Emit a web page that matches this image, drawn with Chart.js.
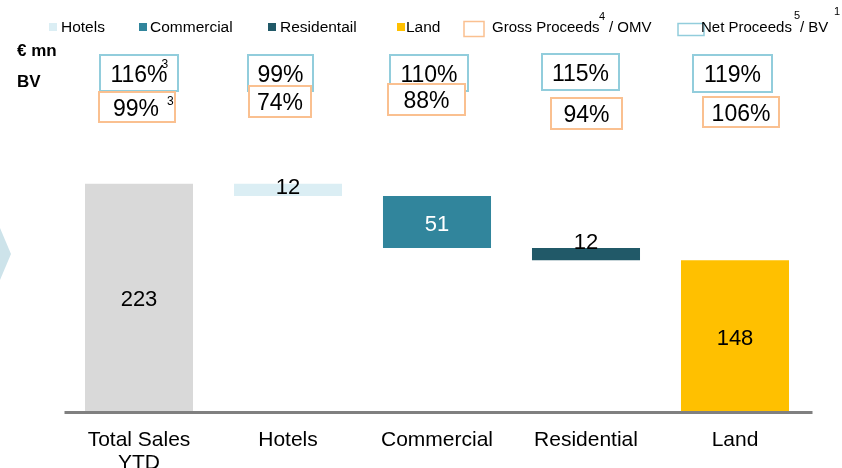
<!DOCTYPE html>
<html>
<head>
<meta charset="utf-8">
<script src="https://cdn.jsdelivr.net/npm/chart.js@4.4.1/dist/chart.umd.min.js"></script>
<style>
  html, body { margin: 0; padding: 0; background: #fff; }
  #wrap { width: 842px; height: 468px; position: relative; }
</style>
</head>
<body>
<div id="wrap"><canvas id="chart" width="842" height="468"></canvas></div>
<script>
// --- data ---
const categories = [['Total Sales', 'YTD'], 'Hotels', 'Commercial', 'Residential', 'Land'];
const values = [223, 12, 51, 12, 148];
const netProceedsBV = ['116%', '99%', '110%', '115%', '119%'];
const grossProceedsOMV = ['99%', '74%', '88%', '94%', '106%'];
const netSup = ['3', '', '', '', ''];
const grossSup = ['3', '', '', '', ''];
const legendNames = ['Hotels', 'Commercial', 'Residentail', 'Land'];

// colours
const barColors = ['#d9d9d9', '#dbeef4', '#31859c', '#215968', '#ffc000'];
const labelColors = ['#000', '#000', '#fff', '#000', '#000'];
const netColor = '#92cddc';
const grossColor = '#fac090';
const FONT = '"Liberation Sans", Arial, sans-serif';

// waterfall ranges: first and last bars start at 0, the rest step down from the total
const ranges = [];
let level = values[0];
values.forEach((v, i) => {
    if (i === 0 || i === values.length - 1) ranges.push([0, v]);
    else { ranges.push([level - v, level]); level -= v; }
});

// box placement relative to each bar centre (dx, top, width, height)
const netBoxes = [[0, 55, 78, 36], [-7.5, 55, 65, 36], [-8, 55, 78, 36], [-5.5, 54, 77, 36], [-2.5, 55, 79, 37]];
const grossBoxes = [[-2, 92, 76, 30], [-8, 86, 62, 31], [-10.5, 84, 77, 31], [0.5, 98, 71, 31], [6, 97, 76, 30]];
// value label vertical offset: 'mid' = bar middle, number = px from bar top
const labelPos = ['mid', 1, 'mid', -8, 'mid'];

function text(ctx, str, x, y, font, color, align) {
    ctx.font = font;
    ctx.fillStyle = color;
    ctx.textAlign = align || 'left';
    ctx.textBaseline = 'alphabetic';
    ctx.fillText(str, x, y);
}

const overlay = {
    id: 'overlay',
    afterDraw(chart) {
        const ctx = chart.ctx;
        const xs = chart.scales.x, ys = chart.scales.y;
        const area = chart.chartArea;
        ctx.save();

        // chevron stub on the left edge
        ctx.fillStyle = '#cde3ea';
        ctx.beginPath();
        ctx.moveTo(0, 228); ctx.lineTo(11, 254); ctx.lineTo(0, 280); ctx.closePath();
        ctx.fill();

        // baseline
        ctx.strokeStyle = '#808080';
        ctx.lineWidth = 3;
        ctx.beginPath();
        ctx.moveTo(area.left, area.bottom + 1.5);
        ctx.lineTo(area.right + 3, area.bottom + 1.5);
        ctx.stroke();

        // legend
        const sq = [49, 139, 268, 397];
        const tx = [61, 150, 280, 406];
        legendNames.forEach((n, i) => {
            ctx.fillStyle = barColors[i + 1];
            ctx.fillRect(sq[i], 23, 8, 8);
            text(ctx, n, tx[i], 32, '15.5px ' + FONT, '#000');
        });
        ctx.lineWidth = 1.5;
        ctx.strokeStyle = grossColor;
        ctx.strokeRect(464, 21.5, 20, 15);
        text(ctx, 'Gross Proceeds', 492, 32, '15px ' + FONT, '#000');
        text(ctx, '4', 599, 20, '11px ' + FONT, '#000');
        text(ctx, '/ OMV', 609, 32, '15px ' + FONT, '#000');
        ctx.strokeStyle = netColor;
        ctx.strokeRect(678, 23.5, 26, 12);
        text(ctx, 'Net Proceeds', 701, 32, '15px ' + FONT, '#000');
        text(ctx, '5', 794, 19, '11px ' + FONT, '#000');
        text(ctx, '/ BV', 800, 32, '15px ' + FONT, '#000');
        text(ctx, '1', 834, 15, '11px ' + FONT, '#000');

        // header labels
        text(ctx, '€ mn', 17, 56, 'bold 17px ' + FONT, '#000');
        text(ctx, 'BV', 17, 87, 'bold 17px ' + FONT, '#000');

        // percentage boxes
        categories.forEach((c, i) => {
            const cx = xs.getPixelForValue(i);
            [[netBoxes[i], netColor, netProceedsBV[i], netSup[i]],
             [grossBoxes[i], grossColor, grossProceedsOMV[i], grossSup[i]]].forEach(([b, col, str, sup], k) => {
                const bx = cx + b[0] - b[2] / 2;
                ctx.fillStyle = '#fff';
                ctx.fillRect(bx, b[1], b[2], b[3]);
                ctx.strokeStyle = col;
                ctx.lineWidth = 2;
                ctx.strokeRect(bx, b[1], b[2], b[3]);
                const tcx = cx + b[0] + (k === 1 && sup ? -1 : 0);
                text(ctx, str, tcx, b[1] + b[3] / 2 + 8.5, '23px ' + FONT, '#000', 'center');
                if (sup) {
                    ctx.font = '23px ' + FONT;
                    const w = ctx.measureText(str).width;
                    if (k === 0) text(ctx, sup, tcx + w / 2 - 6, b[1] + 13, '12px ' + FONT, '#000');
                    else text(ctx, sup, tcx + w / 2 + 8, b[1] + 13, '12px ' + FONT, '#000');
                }
            });
        });

        // value labels
        values.forEach((v, i) => {
            const cx = xs.getPixelForValue(i);
            const top = ys.getPixelForValue(ranges[i][1]);
            const bot = ys.getPixelForValue(ranges[i][0]);
            const cy = labelPos[i] === 'mid' ? (top + bot) / 2 : top + labelPos[i];
            text(ctx, String(v), cx, cy + 9, '22px ' + FONT, labelColors[i], 'center');
        });

        // category labels
        categories.forEach((c, i) => {
            const cx = xs.getPixelForValue(i);
            const lines = Array.isArray(c) ? c : [c];
            lines.forEach((l, j) => text(ctx, l, cx, 446 + j * 23, '21px ' + FONT, '#000', 'center'));
        });

        ctx.restore();
    }
};

new Chart(document.getElementById('chart'), {
    type: 'bar',
    data: {
        labels: categories,
        datasets: [{
            data: ranges,
            backgroundColor: barColors,
            borderWidth: 0,
            barPercentage: 0.725,
            categoryPercentage: 1
        }]
    },
    options: {
        responsive: false,
        animation: false,
        devicePixelRatio: 1,
        layout: { padding: { left: 64.5, right: 32.5, top: 146, bottom: 57 } },
        plugins: { legend: { display: false }, tooltip: { enabled: false } },
        scales: {
            x: { display: false },
            y: { display: false, min: 0, max: 260 }
        }
    },
    plugins: [overlay]
});
</script>
</body>
</html>
